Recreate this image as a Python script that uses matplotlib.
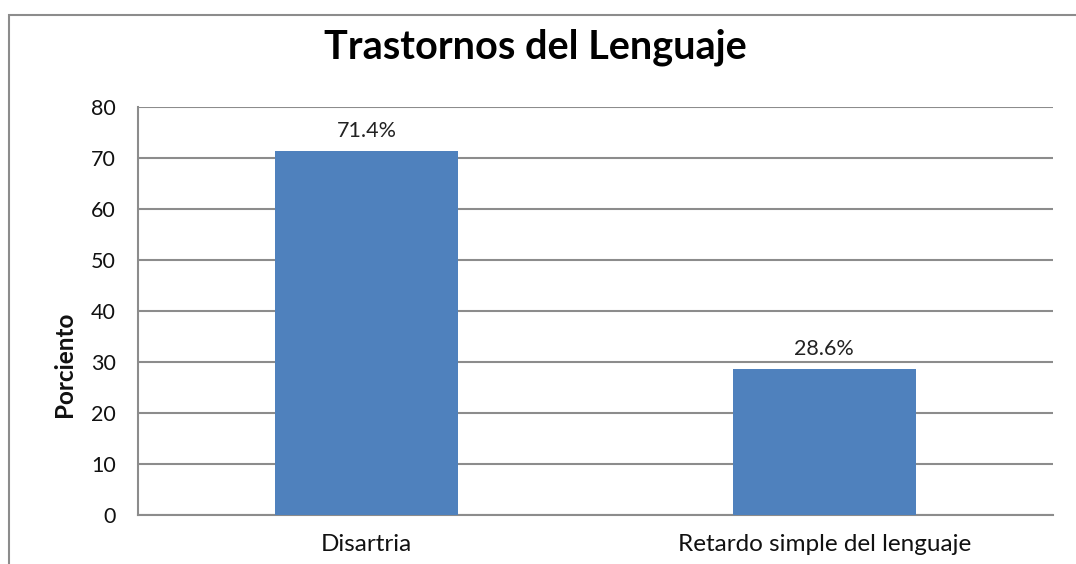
import matplotlib
matplotlib.use('Agg')
import matplotlib.pyplot as plt
from matplotlib.patches import Rectangle

categories = ['Disartria', 'Retardo simple del lenguaje']
values = [71.4, 28.6]
value_labels = ['71.4%', '28.6%']
yticks = [0, 10, 20, 30, 40, 50, 60, 70, 80]

plt.rcParams['font.family'] = ['Lato', 'DejaVu Sans']

fig = plt.figure(figsize=(10.76, 5.64), dpi=100)
# chart area border, cut off at right and bottom like the source
fig.patches.append(Rectangle((9 / 1076, -0.2), 1.2, 0.2 + (564 - 15) / 564, transform=fig.transFigure,
                             fill=False, edgecolor='#8c8c8c', linewidth=1.5, zorder=0))

ax = fig.add_axes([138 / 1076, 1 - 515 / 564, (1053 - 138) / 1076, (515 - 107) / 564])
x = range(len(categories))
ax.bar(x, values, width=0.4, color='#4f81bd', zorder=3)
for xi, v, lab in zip(x, values, value_labels):
    ax.text(xi, v + 2.0, lab, ha='center', va='bottom', fontsize=15.5, color='#222222')

ax.set_xlim(-0.5, 1.5)
ax.set_ylim(0, 80)
ax.set_yticks(yticks)
ax.set_xticks(list(x))
ax.set_xticklabels(categories, fontsize=17.5, color='#111111')
ax.tick_params(axis='y', labelsize=15.5, length=0, pad=16, labelcolor='#111111')
ax.tick_params(axis='x', length=0, pad=14)
ax.grid(axis='y', color='#8c8c8c', linewidth=1.5, zorder=0)
for s in ['top', 'right']:
    ax.spines[s].set_visible(False)
ax.spines['left'].set_color('#8c8c8c')
ax.spines['left'].set_linewidth(1.5)
ax.spines['bottom'].set_color('#8c8c8c')
ax.spines['bottom'].set_linewidth(1.5)

fig.text(64 / 1076, 1 - 364 / 564, 'Porciento', ha='center', va='center', rotation=90,
         fontsize=17.5, fontweight='bold', color='#111111')
fig.text(535 / 1076, 1 - 47 / 564, 'Trastornos del Lenguaje', ha='center', va='center',
         fontsize=28.5, fontweight='bold')

fig.savefig('out.png', dpi=100)
